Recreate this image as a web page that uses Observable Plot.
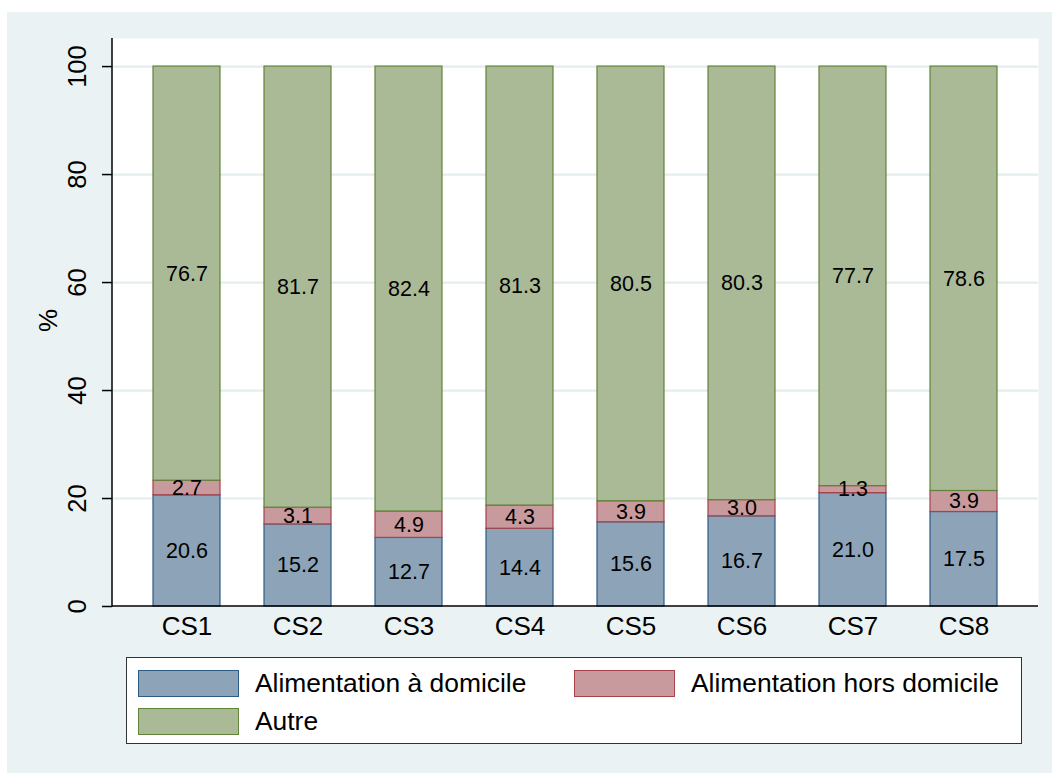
<!DOCTYPE html>
<html><head><meta charset="utf-8">
<script src="https://cdn.jsdelivr.net/npm/d3@7"></script>
<script src="https://cdn.jsdelivr.net/npm/@observablehq/plot@0.6"></script>
<style>
body{margin:0;background:#fff;font-family:"Liberation Sans",Arial,Helvetica,sans-serif;}
#wrap{position:absolute;left:7px;top:12px;width:1045px;height:761px;background:#EAF2F3;}
#chart{position:absolute;left:0;top:0;}
#legend{position:absolute;left:119px;top:645px;width:894px;height:85px;border:1.6px solid #333;background:#fff;}
.item{position:absolute;display:flex;align-items:center;font-size:26.4px;color:#000;white-space:nowrap;}
.sw{width:99px;height:25px;border:1.2px solid;margin-right:16px;box-sizing:content-box;}
</style></head><body>
<div id="wrap"><div id="chart"></div><div id="legend"></div></div>
<script>
const categories = ["CS1","CS2","CS3","CS4","CS5","CS6","CS7","CS8"];
const series = ["Alimentation à domicile","Alimentation hors domicile","Autre"];
const domicile = [20.6,15.2,12.7,14.4,15.6,16.7,21.0,17.5];
const horsDomicile = [2.7,3.1,4.9,4.3,3.9,3.0,1.3,3.9];
const autre = [76.7,81.7,82.4,81.3,80.5,80.3,77.7,78.6];
const yTicks = [0,20,40,60,80,100];
const fills = ["#8DA3B7","#C89A9D","#AABA97"];
const strokes = ["#2E5B86","#A5424A","#62843A"];

const values = [domicile, horsDomicile, autre];
const rows = series.flatMap((s,i) => categories.map((c,j) => ({cat:c, series:s, si:i, value:values[i][j]})));

const axisLines = (index, scales, vals, dims) => {
  const g = d3.create("svg:g").attr("stroke","#000").attr("stroke-width",1.5);
  g.append("line").attr("x1",dims.marginLeft).attr("x2",dims.marginLeft)
    .attr("y1",dims.marginTop).attr("y2",dims.height-dims.marginBottom+0.75);
  g.append("line").attr("x1",dims.marginLeft).attr("x2",dims.width-dims.marginRight)
    .attr("y1",dims.height-dims.marginBottom).attr("y2",dims.height-dims.marginBottom);
  return g.node();
};

const chart = Plot.plot({
  width:1045, height:640,
  marginLeft:105, marginRight:14, marginTop:26, marginBottom:46,
  style:{background:"transparent", fontFamily:'"Liberation Sans",Arial,sans-serif', color:"#000"},
  x:{domain:categories, paddingInner:0.4, paddingOuter:0.366, label:null},
  y:{domain:[0,105.2], label:null},
  marks:[
    Plot.frame({fill:"white", stroke:null}),
    Plot.gridY(yTicks.slice(1), {stroke:"#E3EDF0", strokeWidth:2.2, strokeOpacity:1}),
    Plot.barY(rows, {x:"cat", y:"value", z:"series", fill:d=>fills[d.si], stroke:d=>strokes[d.si], strokeWidth:1.2}),
    Plot.text(rows, Plot.stackY({x:"cat", y:"value", z:"series", text:d=>d.value.toFixed(1), fontSize:21.5, fill:"#000"})),
    Plot.axisY(yTicks, {tickSize:10, tickFormat:()=>"", label:null, strokeWidth:1.5}),
    Plot.text(yTicks, {y:d=>d, text:d=>String(d), frameAnchor:"left", rotate:-90, dx:-35, fontSize:25.5, textAnchor:"middle", lineAnchor:"middle", fill:"#000"}),
    Plot.text(["%"], {frameAnchor:"left", rotate:-90, dx:-64, dy:-2, fontSize:26, textAnchor:"middle", lineAnchor:"middle", fill:"#000"}),
    Plot.axisX({tickSize:0, tickPadding:10, fontSize:26, label:null}),
    axisLines
  ]
});
document.getElementById("chart").appendChild(chart);

const legend = document.getElementById("legend");
const pos = [[11,10],[447,10],[11,48]];
series.forEach((s,i) => {
  const it = document.createElement("div");
  it.className = "item";
  it.style.left = pos[i][0]+"px";
  it.style.top = pos[i][1]+"px";
  const sw = document.createElement("div");
  sw.className = "sw";
  sw.style.background = fills[i];
  sw.style.borderColor = strokes[i];
  it.appendChild(sw);
  const t = document.createElement("span");
  t.textContent = s;
  it.appendChild(t);
  legend.appendChild(it);
});
</script>
</body></html>
